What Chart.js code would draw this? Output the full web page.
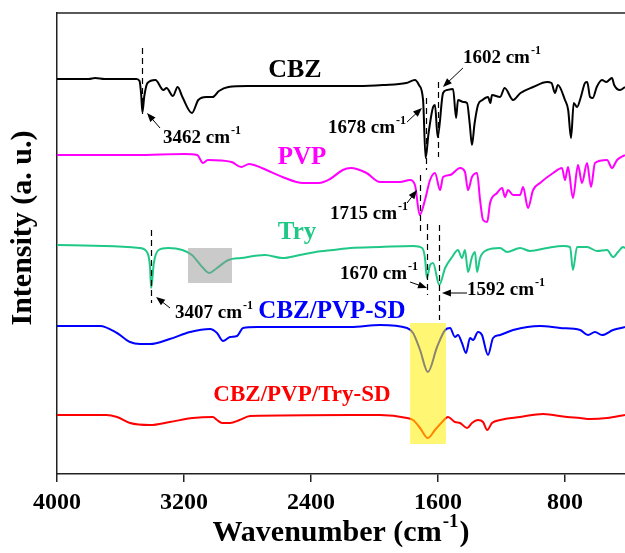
<!DOCTYPE html>
<html>
<head>
<meta charset="utf-8">
<script src="https://cdn.jsdelivr.net/npm/chart.js@4.4.1/dist/chart.umd.min.js"></script>
<style>
  body { margin: 0; background: #fff; }
  #wrap { width: 625px; height: 553px; }
</style>
</head>
<body>
<div id="wrap"><canvas id="ftirChart"></canvas></div>
<script>
// spectra, x = wavenumber (cm-1), y = intensity (a. u., stacked)
const cbzWn  = [4000,3800,3760,3700,3500,3480,3470,3462,3450,3430,3380,3330,3310,3270,3240,3210,3150,3110,3060,3020,2980,2920,2800,2400,2100,1946,1800,1745,1720,1694,1678,1660,1631,1619,1602,1568,1543,1505,1486,1474,1440,1417,1400,1386,1370,1348,1320,1285,1270,1260,1209,1180,1127,1080,1001,913,885,863,845,800,780,762,745,724,700,674,660,642,625,600,567,540,504,490,454,422];
const cbzVal = [395,395,396,395,395,393,380,362,378,391,394,384,386,378,387,377,361,374,377,377,383,387,388,388,388,389,391,394,389,374,316,340,367,369,337,381,384,385,356,374,372,371,350,329,350,369,374,377,371,379,377,386,374,381,387,392,391,381,389,374,364,336,371,367,377,391,392,377,376,387,394,392,396,389,384,387];

const pvpWn  = [4000,3500,3200,3117,3080,3050,2900,2840,2790,2710,2580,2450,2350,2280,2200,2150,2050,1965,1840,1776,1745,1715,1682,1650,1619,1587,1568,1524,1461,1430,1411,1386,1354,1335,1316,1290,1272,1228,1196,1178,1159,1127,1083,1064,1033,1001,957,875,819,800,781,750,718,693,661,636,611,535,504,472,422];
const pvpVal = [319,319,320,319,311,314,312,307,310,306,297,291,291,295,304,306,301,292,292,294,289,259,274,294,301,284,297,299,306,302,284,297,301,274,254,252,271,281,286,277,284,279,279,287,266,284,291,301,306,294,307,276,309,291,311,287,311,314,306,314,319];

const tryWn  = [4000,3700,3480,3430,3414,3407,3390,3360,3300,3210,3150,3080,3040,3000,2920,2840,2690,2580,2470,2370,2260,2150,1965,1757,1700,1682,1670,1650,1631,1592,1555,1511,1474,1449,1430,1411,1386,1367,1354,1335,1291,1209,1165,1083,1020,913,812,768,750,724,661,598,535,497,466,434,422];
const tryVal = [229,228,226,221,207,186,211,224,226,224,219,206,201,205,214,216,219,216,219,222,224,226,227,228,226,216,196,209,211,189,206,217,224,216,224,202,217,222,202,216,224,226,222,226,223,226,228,227,204,227,227,223,224,217,222,227,226];

const sdWn   = [4000,3729,3622,3540,3477,3414,3290,3162,3036,2992,2954,2910,2866,2828,2740,2150,1965,1795,1757,1713,1664,1606,1555,1524,1493,1474,1449,1424,1398,1379,1348,1323,1285,1253,1209,1127,957,831,705,655,611,567,497,422];
const sdVal  = [148,148,141,132,130,130,135,142,145,141,133,137,138,146,147,147,149,146,141,124,102,127,144,146,137,139,131,121,136,134,142,139,119,136,139,144,148,146,144,139,142,139,144,147];

const trySdWn  = [4000,3690,3622,3540,3414,3290,3144,3018,2992,2960,2910,2850,2784,2150,1965,1795,1757,1713,1664,1619,1574,1537,1493,1461,1417,1386,1348,1316,1290,1260,1209,1083,938,787,705,642,535,422];
const trySdVal = [59,59,57,51,49,52,56,57,54,51,51,54,58,59,59,56,54,46,36,44,52,57,52,51,46,51,54,52,44,51,54,57,60,57,56,55,56,59];

const seriesNames  = ['CBZ', 'PVP', 'Try', 'CBZ/PVP-SD', 'CBZ/PVP/Try-SD'];
const seriesColors = ['#000000', '#ff00ff', '#20c888', '#0000ff', '#ff0000'];
const nameWn   = [2501, 2457, 2488, 2268, 2457];
const nameVal  = [404, 316, 241, 162, 79];
const nameSize = [26, 25, 25, 25, 23];

// marked peaks: dashed line from top to bottom value
const peakWn     = [3462, 3407, 1678, 1602, 1715, 1670, 1592];
const peakTop    = [426, 244, 376, 392, 299, 250, 249];
const peakBottom = [356, 171, 304, 317, 242, 179, 154];
// label left/middle and arrow from -> to
const labelWn  = [3332, 3257, 2293, 1443, 2280, 2217, 1417];
const labelVal = [336, 161, 346, 416, 260, 200, 184];
const arrowFromWn  = [3351, 3288, 1795, 1443, 1795, 1776, 1417];
const arrowFromVal = [346, 166, 352, 406, 271, 192, 181];
const arrowToWn    = [3433, 3376, 1701, 1569, 1732, 1669, 1575];
const arrowToVal   = [361, 177, 366, 387, 284, 186, 181];

// highlight boxes [wnLeft, wnRight], [valTop, valBottom]
const boxWn  = [[3175, 2898], [1776, 1550]];
const boxVal = [[226, 191], [151, 30]];
const boxColors = ['rgba(150,150,150,0.5)', 'rgba(255,240,0,0.55)'];

const xTicks = [4000, 3200, 2400, 1600, 800];

const serif = '"Liberation Serif", "Times New Roman", serif';

function toPoints(wn, val) {
    return wn.map((w, i) => ({ x: w, y: val[i] }));
}

// text with a raised "-1", returns total width
function drawSup(ctx, main, sup, x, y, size, align) {
    ctx.font = 'bold ' + size + 'px ' + serif;
    const w1 = ctx.measureText(main).width;
    const supSize = Math.round(size * 0.62);
    ctx.font = 'bold ' + supSize + 'px ' + serif;
    const w2 = ctx.measureText(sup).width;
    let x0 = x;
    if (align === 'center') x0 = x - (w1 + w2) / 2;
    ctx.textAlign = 'left';
    ctx.textBaseline = 'middle';
    ctx.font = 'bold ' + size + 'px ' + serif;
    ctx.fillText(main, x0, y);
    ctx.font = 'bold ' + supSize + 'px ' + serif;
    ctx.fillText(sup, x0 + w1 + 1, y - size * 0.38);
    return x0 + w1 + w2 + 1;
}

const annotate = {
    id: 'annotate',
    afterDatasetsDraw(chart) {
        const { ctx, scales: { x, y }, chartArea } = chart;
        ctx.save();

        // boxes over the lines
        boxWn.forEach((b, i) => {
            const x1 = x.getPixelForValue(b[0]), x2 = x.getPixelForValue(b[1]);
            const y1 = y.getPixelForValue(boxVal[i][0]), y2 = y.getPixelForValue(boxVal[i][1]);
            ctx.fillStyle = boxColors[i];
            ctx.fillRect(x1, y1, x2 - x1, y2 - y1);
        });

        // dashed peak markers
        ctx.strokeStyle = '#000';
        ctx.lineWidth = 1.2;
        ctx.setLineDash([6, 4]);
        peakWn.forEach((w, i) => {
            const px = Math.round(x.getPixelForValue(w)) + 0.5;
            ctx.beginPath();
            ctx.moveTo(px, y.getPixelForValue(peakTop[i]));
            ctx.lineTo(px, y.getPixelForValue(peakBottom[i]));
            ctx.stroke();
        });
        ctx.setLineDash([]);

        // arrows
        ctx.fillStyle = '#000';
        ctx.lineWidth = 1;
        arrowFromWn.forEach((w, i) => {
            const x1 = x.getPixelForValue(w), y1 = y.getPixelForValue(arrowFromVal[i]);
            const x2 = x.getPixelForValue(arrowToWn[i]), y2 = y.getPixelForValue(arrowToVal[i]);
            const a = Math.atan2(y2 - y1, x2 - x1);
            ctx.beginPath();
            ctx.moveTo(x1, y1);
            ctx.lineTo(x2 - 6 * Math.cos(a), y2 - 6 * Math.sin(a));
            ctx.stroke();
            ctx.beginPath();
            ctx.moveTo(x2, y2);
            ctx.lineTo(x2 - 9 * Math.cos(a) + 3.5 * Math.sin(a), y2 - 9 * Math.sin(a) - 3.5 * Math.cos(a));
            ctx.lineTo(x2 - 9 * Math.cos(a) - 3.5 * Math.sin(a), y2 - 9 * Math.sin(a) + 3.5 * Math.cos(a));
            ctx.closePath();
            ctx.fill();
        });

        // peak labels
        peakWn.forEach((w, i) => {
            drawSup(ctx, w + ' cm', '-1', x.getPixelForValue(labelWn[i]), y.getPixelForValue(labelVal[i]), 19, 'left');
        });

        // series names
        ctx.textAlign = 'center';
        ctx.textBaseline = 'middle';
        seriesNames.forEach((n, i) => {
            ctx.fillStyle = seriesColors[i];
            ctx.font = 'bold ' + nameSize[i] + 'px ' + serif;
            ctx.fillText(n, x.getPixelForValue(nameWn[i]), y.getPixelForValue(nameVal[i]));
        });

        // top frame line
        ctx.strokeStyle = '#222';
        ctx.lineWidth = 1.5;
        ctx.beginPath();
        ctx.moveTo(chartArea.left, chartArea.top);
        ctx.lineTo(chartArea.right, chartArea.top);
        ctx.stroke();

        // axis titles
        ctx.fillStyle = '#000';
        const cx = (chartArea.left + chartArea.right) / 2 - 6;
        const end = drawSup(ctx, 'Wavenumber (cm', '-1', cx, 533, 30, 'center');
        ctx.font = 'bold 30px ' + serif;
        ctx.fillText(')', end + 1, 533);

        ctx.translate(23, 228);
        ctx.rotate(-Math.PI / 2);
        ctx.textAlign = 'center';
        ctx.font = 'bold 30px ' + serif;
        ctx.fillText('Intensity (a. u.)', 0, 0);
        ctx.restore();
    }
};

const allWn  = [cbzWn, pvpWn, tryWn, sdWn, trySdWn];
const allVal = [cbzVal, pvpVal, tryVal, sdVal, trySdVal];

new Chart(document.getElementById('ftirChart'), {
    type: 'line',
    data: {
        datasets: seriesNames.map((n, i) => ({
            label: n,
            data: toPoints(allWn[i], allVal[i]),
            borderColor: seriesColors[i],
            borderWidth: 2,
            pointRadius: 0,
            fill: false,
            cubicInterpolationMode: 'monotone'
        }))
    },
    options: {
        responsive: true,
        maintainAspectRatio: false,
        animation: false,
        devicePixelRatio: 1,
        layout: { padding: { top: 13, right: 0, left: 0, bottom: 0 } },
        plugins: { legend: { display: false }, tooltip: { enabled: false } },
        scales: {
            x: {
                type: 'linear',
                reverse: true,
                min: 422,
                max: 4000,
                afterBuildTicks: s => { s.ticks = xTicks.map(v => ({ value: v })); },
                afterFit: s => { s.height = 79; },
                grid: { display: true, drawOnChartArea: false, drawTicks: true, tickLength: 8, color: '#222', lineWidth: 1.5 },
                border: { display: true, color: '#222', width: 1.5 },
                ticks: {
                    color: '#000',
                    padding: 6,
                    maxRotation: 0,
                    callback: v => String(v),
                    font: { family: serif, size: 24, weight: 'bold' }
                }
            },
            y: {
                min: 0,
                max: 461,
                afterFit: s => { s.width = 57; },
                grid: { display: false },
                border: { display: true, color: '#222', width: 1.5 },
                ticks: { display: false }
            }
        }
    },
    plugins: [annotate]
});
</script>
</body>
</html>
